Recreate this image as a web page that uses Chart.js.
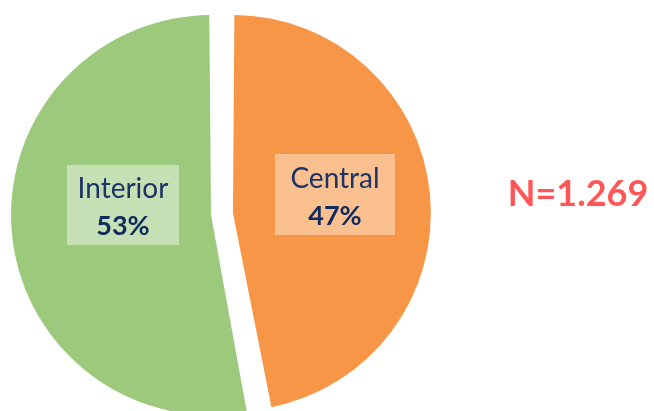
<!DOCTYPE html>
<html>
<head>
<meta charset="utf-8">
<script src="https://cdn.jsdelivr.net/npm/chart.js@4"></script>
<style>
  html, body { margin: 0; padding: 0; background: #ffffff; }
  #wrap { position: relative; width: 654px; height: 411px; }
</style>
</head>
<body>
<div id="wrap"><canvas id="c"></canvas></div>
<script>
const categories = ['Central', 'Interior'];
const shares = [47, 53];
const percentLabels = ['47%', '53%'];
const sampleLabel = 'N=1.269';

const sliceColors = ['#F79646', '#9CC97B'];
const boxColors = ['#FAC090', '#C5E0B4'];
// label box centre relative to pie centre, and box size
const labelBoxes = [
  { dx: 113, dy: -19.5, w: 120, h: 81 },
  { dx: -99, dy: -9, w: 112, h: 80 }
];

const labelPlugin = {
  id: 'sliceLabels',
  afterDatasetsDraw(chart) {
    const ctx = chart.ctx;
    const meta = chart.getDatasetMeta(0);
    ctx.save();
    meta.data.forEach((arc, i) => {
      const b = labelBoxes[i];
      const cx = arc.x + b.dx, cy = arc.y + b.dy;
      ctx.fillStyle = boxColors[i];
      ctx.fillRect(cx - b.w / 2, cy - b.h / 2, b.w, b.h);
      ctx.textAlign = 'center';
      ctx.textBaseline = 'alphabetic';
      ctx.fillStyle = '#1B3366';
      ctx.font = '28px Lato, "DejaVu Sans", sans-serif';
      ctx.fillText(categories[i], cx, cy - 7);
      ctx.fillStyle = '#0F2B5E';
      ctx.font = 'bold 27px Lato, "DejaVu Sans", sans-serif';
      ctx.fillText(percentLabels[i], cx, cy + 30);
    });
    // sample size note
    ctx.fillStyle = '#FF5757';
    ctx.font = 'bold 36px Lato, "DejaVu Sans", sans-serif';
    ctx.textAlign = 'center';
    ctx.fillText(sampleLabel, 578, 206);
    ctx.restore();
  }
};

new Chart(document.getElementById('c'), {
  type: 'pie',
  data: {
    labels: categories,
    datasets: [{
      data: shares,
      backgroundColor: sliceColors,
      borderWidth: 0,
      offset: 44,
      hoverOffset: 44,
      clip: false
    }]
  },
  options: {
    responsive: true,
    maintainAspectRatio: false,
    animation: false,
    radius: 189,
    layout: { padding: { left: 0, right: 210, top: 17, bottom: 0 } },
    plugins: {
      legend: { display: false },
      tooltip: { enabled: false },
      title: { display: false }
    },
    events: []
  },
  plugins: [labelPlugin]
});
</script>
</body>
</html>
